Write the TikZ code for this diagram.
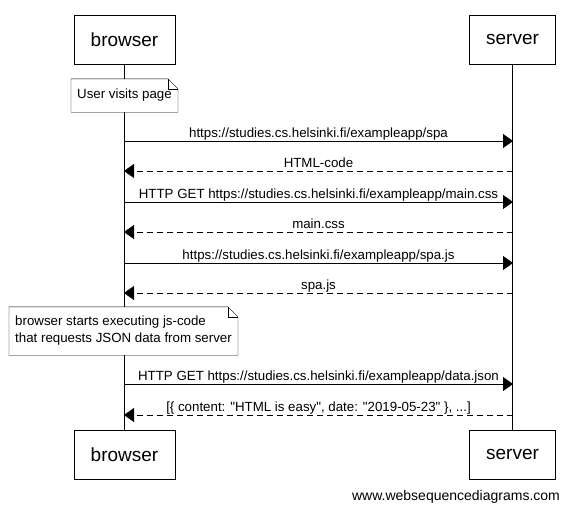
\documentclass[tikz,border=0pt]{standalone}
\usepackage{fontspec}
\setmainfont{Liberation Sans}
\usetikzlibrary{positioning,calc,arrows.meta}

\begin{document}
\begin{tikzpicture}[
  x=1pt, y=-1pt,
  every node/.style={font=\fontsize{13.3}{17}\selectfont},
  actor/.style={draw, inner xsep=16.5pt, minimum height=49pt, font=\fontsize{19}{22}\selectfont},
  lifeline/.style={draw},
  note/.style={fill=white, align=left, inner xsep=6pt, inner ysep=0pt},
  msg-label/.style={anchor=base, inner sep=0pt, yshift=3.7pt},
  call/.style={draw, -{Triangle[length=10pt,width=14pt]}},
  reply/.style={draw, dash pattern=on 6pt off 4pt, -{Triangle[length=10pt,width=14pt]}},
  ]

  \useasboundingbox (0,0) rectangle (570,512);

  % participants, top and bottom
  \node [actor] (browser-top) at (124.5,39.5) {browser};
  \node [actor] (server-top) at (512.5,39.5) {server};
  \node [actor] (browser-bottom) at (124.5,454.5) {browser};
  \node [actor] (server-bottom) at (512.5,454.5) {server};

  \draw [lifeline] (browser-top) -- (browser-bottom);
  \draw [lifeline] (server-top) -- (server-bottom);

  % notes
  \node [note, minimum width=105pt, minimum height=33pt] (visit-note) at (124.5,95.5) {User visits page};
  \draw (visit-note.south west) -- (visit-note.north west) -- ($(visit-note.north east)+(-10,0)$)
    -- ($(visit-note.north east)+(0,10)$) -- (visit-note.south east) -- cycle;
  \draw ($(visit-note.north east)+(-10,0)$) |- ($(visit-note.north east)+(0,10)$);

  \node [note, minimum width=227pt, minimum height=48pt] (js-note) at (123.5,331) {browser starts executing js-code\\that requests JSON data from server};
  \draw (js-note.south west) -- (js-note.north west) -- ($(js-note.north east)+(-10,0)$)
    -- ($(js-note.north east)+(0,10)$) -- (js-note.south east) -- cycle;
  \draw ($(js-note.north east)+(-10,0)$) |- ($(js-note.north east)+(0,10)$);

  % message end points on the lifelines
  \coordinate (spa-b) at (124,141);       \coordinate (spa-s) at (513,141);
  \coordinate (html-b) at (124,171);      \coordinate (html-s) at (513,171);
  \coordinate (css-b) at (124,202);       \coordinate (css-s) at (513,202);
  \coordinate (css-back-b) at (124,232);  \coordinate (css-back-s) at (513,232);
  \coordinate (js-b) at (124,263);        \coordinate (js-s) at (513,263);
  \coordinate (js-back-b) at (124,293);   \coordinate (js-back-s) at (513,293);
  \coordinate (json-b) at (124,384);      \coordinate (json-s) at (513,384);
  \coordinate (json-back-b) at (124,415); \coordinate (json-back-s) at (513,415);

  \draw [call] (spa-b) -- node [msg-label] {https://studies.cs.helsinki.fi/exampleapp/spa} (spa-s);
  \draw [reply] (html-s) -- node [msg-label] {HTML-code} (html-b);
  \draw [call] (css-b) -- node [msg-label] {HTTP GET https://studies.cs.helsinki.fi/exampleapp/main.css} (css-s);
  \draw [reply] (css-back-s) -- node [msg-label] {main.css} (css-back-b);
  \draw [call] (js-b) -- node [msg-label] {https://studies.cs.helsinki.fi/exampleapp/spa.js} (js-s);
  \draw [reply] (js-back-s) -- node [msg-label] {spa.js} (js-back-b);
  \draw [call] (json-b) -- node [msg-label] {HTTP GET https://studies.cs.helsinki.fi/exampleapp/data.json} (json-s);
  \draw [reply] (json-back-s) -- node [msg-label] {[\{ content: \textquotedbl HTML is easy\textquotedbl, date: \textquotedbl 2019-05-23\textquotedbl\ \}, ...]} (json-back-b);

  \node [font=\fontsize{14}{17}\selectfont] (footer) at (456,497) {www.websequencediagrams.com};

\end{tikzpicture}
\end{document}
